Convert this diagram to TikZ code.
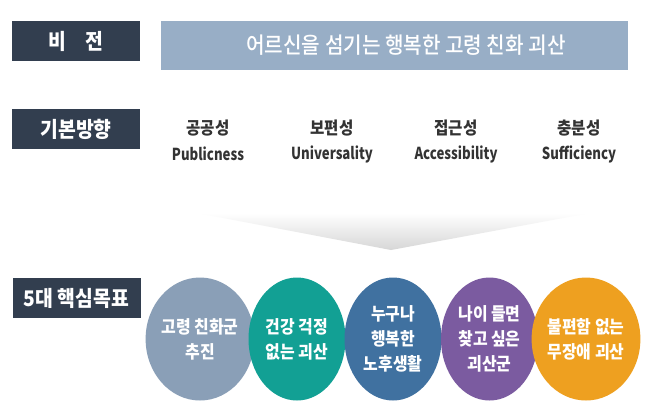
\documentclass[tikz,border=0pt]{standalone}
\usepackage{fontspec}
\setmainfont{Noto Sans CJK KR}[FakeStretch=0.9]
\newfontfamily\enfont[FakeStretch=0.8]{Noto Sans CJK KR}
\newfontfamily\medfont[FakeStretch=0.9]{Noto Sans CJK KR Medium}
\usetikzlibrary{shapes.geometric}
\definecolor{navy}{HTML}{323E4F}
\definecolor{banner}{HTML}{98AEC6}
\definecolor{txtgray}{HTML}{333333}
\definecolor{cA}{HTML}{8A9FB7}
\definecolor{cB}{HTML}{12A094}
\definecolor{cC}{HTML}{4071A0}
\definecolor{cD}{HTML}{7B5BA0}
\definecolor{cE}{HTML}{EEA020}
\begin{document}
\begin{tikzpicture}[x=1pt,y=-1pt,
  tag/.style={fill=navy, text=white, font=\bfseries\fontsize{21.5}{23}\selectfont,
    minimum width=128pt, minimum height=40pt, inner sep=0pt},
  kor/.style={text=txtgray, font=\bfseries\fontsize{17.3}{19}\selectfont, inner sep=0pt},
  eng/.style={text=txtgray, font=\enfont\bfseries\fontsize{16.5}{18}\selectfont, inner sep=0pt},
  goal/.style={ellipse, minimum width=97pt, minimum height=123pt, inner sep=0pt,
    text=white, align=center, font=\bfseries\fontsize{17.7}{25}\selectfont}]
\useasboundingbox (0,0) rectangle (660,416);
\fill[white] (0,0) rectangle (660,416);
% rows
\node[tag] (vision) at (76,41) {비\hspace{0.9em}전};
\node[fill=banner, minimum width=467pt, minimum height=49pt, inner sep=0pt] (vbar) at (394.5,45.5) {};
\node[text=white, inner sep=0pt, font=\medfont\fontsize{22.4}{24}\selectfont] (vtext) at (406,45.5) {어르신을 섬기는 행복한 고령 친화 괴산};
\node[tag] (dir) at (76,129) {기본방향};
\node[tag] (goals) at (76.5,298) {5대 핵심목표};
% directions
\node[kor] (d1) at (208,128) {공공성};
\node[eng] (e1) at (208,154) {Publicness};
\node[kor] (d2) at (332,128) {보편성};
\node[eng] (e2) at (332,154) {Universality};
\node[kor] (d3) at (456,128) {접근성};
\node[eng] (e3) at (456,154) {Accessibility};
\node[kor] (d4) at (579,128) {충분성};
\node[eng] (e4) at (579,154) {Sufficiency};
% funnel
\shade[top color=white, bottom color=black!16] (197,213) -- (590,213) -- (391,250) -- cycle;
% goals
\node[goal, fill=cA] (g1) at (200,339) {고령 친화군\\추진};
\node[goal, fill=cB] (g2) at (297,339) {건강 걱정\\없는 괴산};
\node[goal, fill=cC] (g3) at (393,339) {누구나\\행복한\\노후생활};
\node[goal, fill=cD] (g4) at (489.5,339) {나이 들면\\찾고 싶은\\괴산군};
\node[goal, fill=cE, minimum width=99pt] (g5) at (586,339) {불편함 없는\\무장애 괴산};
\end{tikzpicture}
\end{document}
